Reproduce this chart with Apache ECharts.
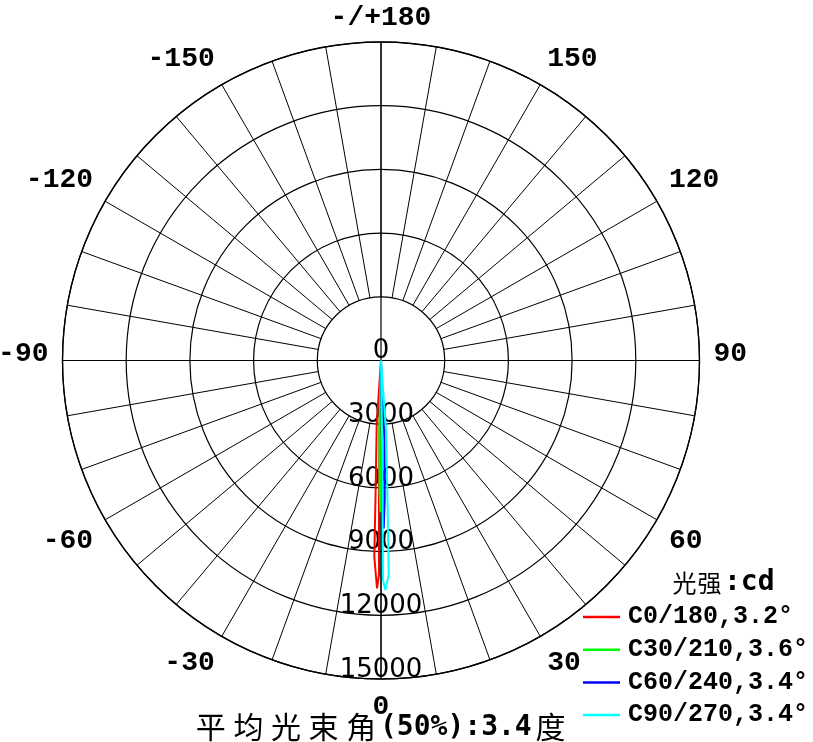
<!DOCTYPE html>
<html><head><meta charset="utf-8">
<script src="https://cdn.jsdelivr.net/npm/echarts@6/dist/echarts.min.js"></script>
<style>html,body{margin:0;padding:0;background:#fff}#c{width:813px;height:742px}</style>
</head><body><div id="c"></div>
<script>
// ---- data ----
const seriesNames = ['C0/180,3.2°', 'C30/210,3.6°', 'C60/240,3.4°', 'C90/270,3.4°'];
const radialTicks = [0, 3000, 6000, 9000, 12000, 15000];
const angleLabelStep = 30;

const c0Angles  = [0, -3.87, -2.4, -1.96, -1.0, -0.53, -0.92, -1.35, 0];
const c0Values  = [0, 3000, 5950, 9245, 10730, 10100, 5865, 2990, 0];

const c30Angles = [0, -1.4, -0.66, -0.19, 0.22, 0.41, 0];
const c30Values = [0, 3275, 6100, 7140, 6100, 3275, 0];

const c60Angles = [0, 0.72, 0.57, 0.92, 1.52, 2.52, 0];
const c60Values = [0, 3745, 7045, 7915, 6575, 3750, 0];

const c90Angles = [0, 0.82, 0.62, 0.52, 1.07, 2.06, 2.67, 4.1, 0];
const c90Values = [0, 3275, 6575, 10340, 10810, 10110, 6580, 3280, 0];

// ---- chart ----
const colors = ['#ff0000', '#00ff00', '#0000ff', '#00ffff'];
const angleSets = [c0Angles, c30Angles, c60Angles, c90Angles];
const valueSets = [c0Values, c30Values, c60Values, c90Values];

const CENTER = [381, 360.5];
const R = 318.5;
const rMax = radialTicks[radialTicks.length - 1];
const rStep = radialTicks[1] - radialTicks[0];
const innerR = R * rStep / rMax;

const MONO = 'Liberation Mono';
const CJK = 'Noto Sans CJK SC';

function spaced(str, style) {
  return str.split('').map(function (ch) { return '{' + style + '|' + ch + '}'; }).join('');
}

const chart = echarts.init(document.getElementById('c'), null, { renderer: 'canvas' });
chart.setOption({
  animation: false,
  backgroundColor: '#fff',
  polar: [
    { center: CENTER, radius: [0, R] },
    { center: CENTER, radius: [innerR, R] },
    { center: CENTER, radius: [0, R] }
  ],
  angleAxis: [
    {
      polarIndex: 0, type: 'value', min: -180, max: 180, interval: 90,
      startAngle: 90, clockwise: false,
      axisLine: { show: true, lineStyle: { color: '#000', width: 1.3 } },
      axisTick: { show: false }, axisLabel: { show: false },
      splitLine: { show: true, lineStyle: { color: '#000', width: 1.2 } }
    },
    {
      polarIndex: 1, type: 'value', min: -180, max: 180, interval: 10,
      startAngle: 90, clockwise: false,
      axisLine: { show: false }, axisTick: { show: false },
      axisLabel: {
        show: true, margin: 14, fontSize: 28, fontFamily: MONO, fontWeight: 'bold', color: '#000',
        formatter: function (v) {
          const n = Math.round(v);
          if (n === -180) return '{t|-/+180}';
          if (n === 180) return '';
          if (n % angleLabelStep !== 0) return '';
          if (n === 90 || n === -90) return '{s|' + n + '}';
          return String(n);
        },
        rich: {
          t: { fontSize: 28, fontFamily: MONO, fontWeight: 'bold', color: '#000', lineHeight: 20 },
          s: { fontSize: 28, fontFamily: MONO, fontWeight: 'bold', color: '#000', padding: [0, 0, 14, 0] }
        }
      },
      splitLine: { show: true, lineStyle: { color: '#000', width: 1 } }
    },
    {
      polarIndex: 2, type: 'value', min: -180, max: 180, startAngle: 270, clockwise: false,
      show: false
    }
  ],
  radiusAxis: [
    {
      polarIndex: 0, type: 'value', min: 0, max: rMax, interval: rStep,
      axisLine: { show: false }, axisTick: { show: false }, axisLabel: { show: false },
      splitLine: { show: true, lineStyle: { color: '#000', width: 1.2 } }
    },
    { polarIndex: 1, type: 'value', min: 0, max: rMax, show: false },
    {
      polarIndex: 2, type: 'value', min: 0, max: rMax, interval: rStep,
      axisLine: { show: false }, axisTick: { show: false }, splitLine: { show: false },
      axisLabel: {
        show: true, margin: 0, align: 'center', verticalAlign: 'bottom',
        fontFamily: 'DejaVu Sans', fontSize: 26, color: '#000', lineHeight: 18,
        formatter: function (v) { return String(v); }
      }
    }
  ],
  title: [
    {
      text: spaced('光强', 'a') + '{b|:cd}', left: 672, top: 569, padding: 0,
      textStyle: {
        fontFamily: 'DejaVu Sans Mono', fontWeight: 'bold', fontSize: 25, color: '#000',
        rich: {
          a: { fontFamily: CJK, fontWeight: 'normal', fontSize: 24, color: '#000', padding: [0, 0.5, 0, 0.5] },
          b: { fontFamily: 'DejaVu Sans Mono', fontWeight: 'bold', fontSize: 28, color: '#000', padding: [0, 0, 0, 2] }
        }
      }
    },
    {
      text: spaced('平均光束角', 'a') + '{b|(50%):3.4}' + spaced('度', 'a'), left: 192, top: 708, padding: 0,
      textStyle: {
        fontFamily: 'DejaVu Sans Mono', fontWeight: 'bold', fontSize: 28, color: '#000',
        rich: {
          a: { fontFamily: CJK, fontWeight: 'normal', fontSize: 30, color: '#000', padding: [0, 3.8, 0, 3.8], lineHeight: 34, verticalAlign: 'bottom' },
          b: { fontFamily: 'DejaVu Sans Mono', fontWeight: 'bold', fontSize: 28, color: '#000', lineHeight: 34, verticalAlign: 'bottom' }
        }
      }
    }
  ],
  legend: {
    orient: 'vertical', left: 583, top: 604, padding: 0,
    itemWidth: 37, itemHeight: 2.5, itemGap: 6.7, icon: 'rect',
    data: seriesNames,
    textStyle: { fontFamily: MONO, fontWeight: 'bold', fontSize: 25, lineHeight: 26, color: '#000', padding: [0, 0, 0, 3] }
  },
  series: seriesNames.map(function (name, i) {
    return {
      name: name, type: 'line', coordinateSystem: 'polar', polarIndex: 0,
      symbol: 'none', showSymbol: false, z: 5 + i,
      lineStyle: { color: colors[i], width: 2 },
      itemStyle: { color: colors[i] },
      data: angleSets[i].map(function (a, k) { return [valueSets[i][k], a]; })
    };
  })
});
</script>
</body></html>
